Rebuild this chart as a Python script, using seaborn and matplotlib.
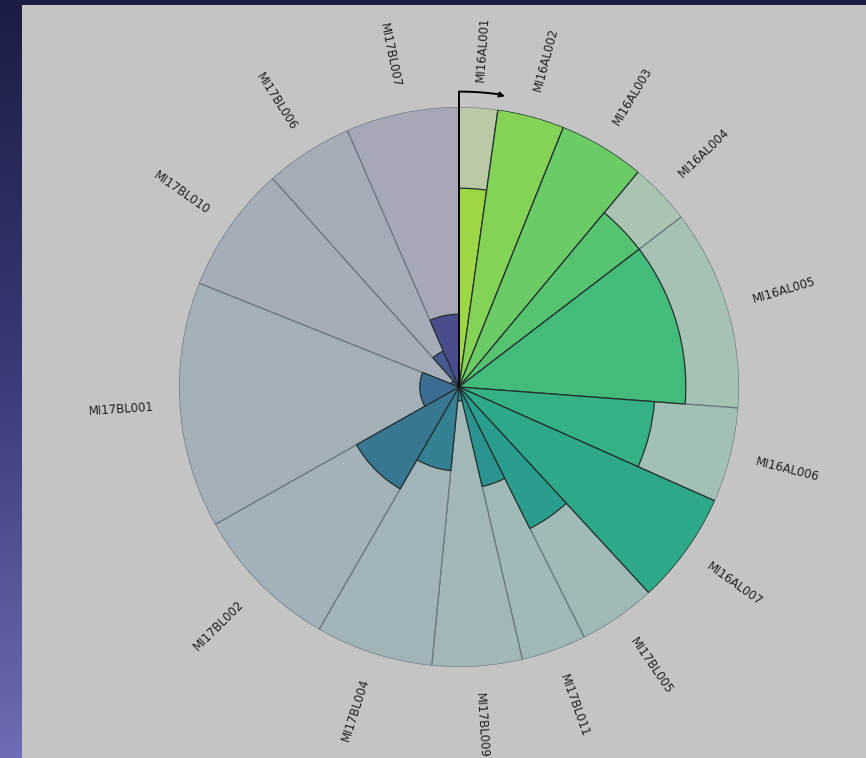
import numpy as np
import matplotlib
matplotlib.use('Agg')
import matplotlib.pyplot as plt
import seaborn as sns

# wedges clockwise from north
samples = ['MI16AL001', 'MI16AL002', 'MI16AL003', 'MI16AL004', 'MI16AL005',
           'MI16AL006', 'MI16AL007', 'MI17BL005', 'MI17BL011', 'MI17BL009',
           'MI17BL004', 'MI17BL002', 'MI17BL001', 'MI17BL010', 'MI17BL006',
           'MI17BL007']
# angular share of each sample (degrees)
widths_deg = [8.0, 13.9, 17.9, 12.8, 41.7, 19.7, 23.3, 16.1,
              13.5, 18.7, 24.4, 30.6, 51.2, 26.4, 18.3, 23.5]
# filled fraction of each wedge
fraction = [0.71, 1.0, 1.0, 0.81, 0.81, 0.70, 1.0, 0.565,
            0.365, 0.05, 0.30, 0.42, 0.14, 0.03, 0.14, 0.26]

sns.set_theme(style='white')
plt.rcParams['font.family'] = ['DejaVu Sans']

panel_grey = np.array([0.77, 0.77, 0.77])
cmap = sns.color_palette('viridis', as_cmap=True)
base = [np.array(cmap(v)[:3]) for v in np.linspace(0.85, 0.2, len(samples))]
inner_cols = [0.93 * c + 0.07 * panel_grey for c in base]
outer_cols = [0.22 * c + 0.78 * panel_grey for c in base]

widths = np.radians(widths_deg)
starts = np.concatenate([[0], np.cumsum(widths)[:-1]])

fig = plt.figure(figsize=(8.66, 7.58), dpi=100)

# night-sky backdrop
bg = fig.add_axes([0, 0, 1, 1], zorder=-3)
grad = np.linspace(0, 1, 256)[:, None]
bg.imshow(grad, aspect='auto', extent=[0, 1, 0, 1], origin='upper',
          cmap=matplotlib.colors.LinearSegmentedColormap.from_list(
              'sky', ['#1b1d44', '#3a3b78', '#6e6db5']))
bg.axis('off')

# grey panel
panel = fig.add_axes([22 / 866, 0, 1 - 22 / 866, 753 / 758], zorder=-2)
panel.set_facecolor('#c4c4c4')
panel.set_xticks([])
panel.set_yticks([])
for s in panel.spines.values():
    s.set_visible(False)

cx, cy, R = 459, 387, 280
ax = fig.add_axes([(cx - R) / 866, (758 - cy - R) / 758, 2 * R / 866, 2 * R / 758],
                  projection='polar')
ax.set_facecolor('none')
ax.set_theta_zero_location('N')
ax.set_theta_direction(-1)
ax.set_ylim(0, 1)

ax.bar(starts, np.ones(len(samples)), width=widths, align='edge',
       color=outer_cols, edgecolor='#6c7880', linewidth=0.9)
ax.bar(starts, fraction, width=widths, align='edge',
       color=inner_cols, edgecolor='#24302f', linewidth=0.9)

ax.grid(False)
ax.spines['polar'].set_visible(False)
ax.set_xticks([])
ax.set_yticks([])

# labels around the wheel
for st, w, name in zip(starts, widths, samples):
    mid = st + w / 2
    deg = np.degrees(mid)
    rot = 90 - deg
    if 180 < deg < 360:
        rot += 180
    ax.text(mid, 1.21, name, rotation=rot, rotation_mode='anchor',
            ha='center', va='center', fontsize=8.5, color='#222222',
            clip_on=False)

# start marker: line from centre up, then arrow clockwise
ax.plot([0, 0], [0, 1.055], color='black', lw=1.4, clip_on=False)
arc = np.linspace(0, np.radians(8.0), 30)
ax.plot(arc, np.full_like(arc, 1.055), color='black', lw=1.4, clip_on=False)
ax.annotate('', xy=(np.radians(9.5), 1.05), xytext=(np.radians(7.5), 1.055),
            arrowprops=dict(arrowstyle='-|>', color='black', lw=1.2,
                            mutation_scale=8), annotation_clip=False)

fig.savefig('out.png', dpi=100)
